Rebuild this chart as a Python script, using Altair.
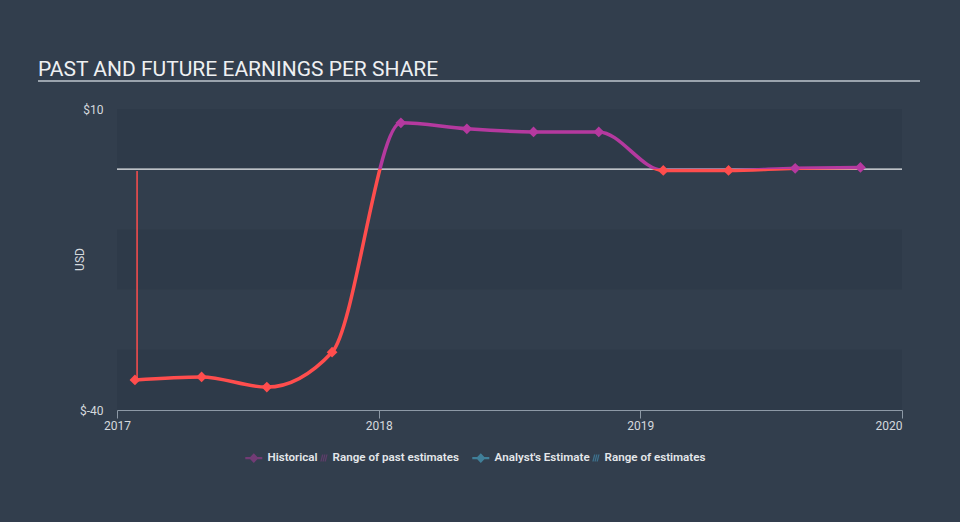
import altair as alt
import pandas as pd

# ---------------- data ----------------
dates = ["2017-01-26", "2017-04-29", "2017-07-29", "2017-10-28",
         "2018-02-01", "2018-05-04", "2018-08-05", "2018-11-04",
         "2019-02-02", "2019-05-04", "2019-08-05", "2019-11-04"]
eps = [-35.0, -34.5, -36.2, -30.4, 7.7, 6.7, 6.2, 6.2, -0.2, -0.2, 0.15, 0.3]

range_date = ["2017-01-29"]
range_low = [-35.0]
range_high = [-0.3]

band_top = [10, -10, -30]
band_bottom = [0, -20, -40]

zero_line = [0]

y_ticks = [10, -40]
year_ticks = [2017, 2018, 2019, 2020]

legend_past = ["Historical", "Range of past estimates"]
legend_future = ["Analyst's Estimate", "Range of estimates"]

title_text = "PAST AND FUTURE EARNINGS PER SHARE"

# ---------------- style ----------------
RED = "#ff4d4d"
PURPLE = "#b5399f"
BLUE = "#4fc3e8"
W, H = 785, 301

df = pd.DataFrame({"date": dates, "eps": eps})
rng = pd.DataFrame({"date": range_date, "low": range_low, "high": range_high})
bands = pd.DataFrame({"top": band_top, "bottom": band_bottom})
zero = pd.DataFrame({"z": zero_line})

yscale = alt.Scale(domain=[-40, 10], nice=False, zero=False)
yaxis = alt.Axis(values=y_ticks, labelExpr="'$' + datum.value", ticks=False, domain=False,
                 grid=False, labelPadding=14, labelColor="#d5d9de", labelFontSize=12,
                 labelFont="Roboto", title="USD", titleX=-31, titleY=150,
                 titleColor="#d5d9de", titleFontSize=12, titleFontWeight="normal",
                 titleFont="Roboto")

xscale = alt.Scale(type="utc", domain=[alt.DateTime(year=2017, month=1, date=1, utc=True),
                                       alt.DateTime(year=2020, month=1, date=1, utc=True)])
xaxis = alt.Axis(values=[alt.DateTime(year=y, month=1, date=1, utc=True) for y in year_ticks],
                 format="%Y", title=None, grid=False, tickSize=8, tickColor="#8d99a6",
                 domainColor="#8d99a6", labelColor="#d5d9de", labelFontSize=12,
                 labelFont="Roboto", labelPadding=2, labelFlush=False,
                 labelAlign={"condition": {"test": "datum.value >= 1577836800000", "value": "right"},
                             "value": "center"})


def Y(field):
    return alt.Y(field, type="quantitative", scale=yscale, axis=yaxis)


def X(field):
    return alt.X(field, type="temporal", scale=xscale, axis=xaxis)


band_layer = alt.Chart(bands).mark_rect(color="#2e3a49").encode(
    y=Y("top"), y2="bottom", x=alt.value(0), x2=alt.value(W))

zero_layer = alt.Chart(zero).mark_rule(color="#eceef0", strokeWidth=1.2).encode(
    y=Y("z"), x=alt.value(0), x2=alt.value(W))

range_layer = alt.Chart(rng).mark_rule(color=RED, strokeWidth=1.5).encode(
    x=X("date"), y=Y("low"), y2="high")

off = max(eps) / (max(eps) - min(eps))
grad = alt.Gradient(gradient="linear",
                    stops=[alt.GradientStop(offset=0, color=PURPLE),
                           alt.GradientStop(offset=off, color=PURPLE),
                           alt.GradientStop(offset=off, color=RED),
                           alt.GradientStop(offset=1, color=RED)],
                    x1=0, x2=0, y1=0, y2=1)

line_layer = alt.Chart(df).mark_line(interpolate="monotone", strokeWidth=3.5, color=grad).encode(
    x=X("date"), y=Y("eps"))

point_layer = alt.Chart(df).mark_point(shape="diamond", filled=True, size=115, opacity=1).encode(
    x=X("date"), y=Y("eps"),
    color=alt.condition("datum.eps < 0", alt.value(RED), alt.value(PURPLE)))

# legend glyphs: a short line with a diamond (overflowing to the left of its box) and a hatch
line_diamond = ("M-3.86,-0.34L-2.45,-0.34L-1.43,-1.4L-0.41,-0.34L1,-0.34L1,0.34"
                "L-0.41,0.34L-1.43,1.4L-2.45,0.34L-3.86,0.34Z")
hatch = ("M-1,1L-0.5,-1L-0.12,-1L-0.62,1Z M-0.4,1L0.1,-1L0.48,-1L-0.02,1Z "
         "M0.2,1L0.7,-1L1.08,-1L0.58,1Z")


def legend_layer(items, colors, x):
    return alt.Chart(pd.DataFrame({"cat": items})).mark_point(filled=True, size=0).encode(
        color=alt.Color("cat:N",
                        scale=alt.Scale(domain=items, range=colors),
                        legend=alt.Legend(orient="none", legendX=x, legendY=343,
                                          direction="horizontal", title=None, symbolOpacity=1,
                                          symbolSize=49, symbolStrokeWidth=0,
                                          labelColor="#e4e7ea", labelFontSize=11.6,
                                          labelFont="Roboto", labelFontWeight=600,
                                          labelOffset=3, columnPadding=-3)),
        shape=alt.Shape("cat:N", scale=alt.Scale(domain=items, range=[line_diamond, hatch])))


legend_a = legend_layer(legend_past, [PURPLE, "#8a3d86"], 136)
legend_b = legend_layer(legend_future, [BLUE, "#4aa6cf"], 363)

title_layer = alt.Chart(pd.DataFrame({"t": [title_text]})).mark_text(
    align="left", baseline="alphabetic", fontSize=21, font="Roboto", color="#eef0f2").encode(
    x=alt.value(-79), y=alt.value(-33), text="t:N")

underline_layer = alt.Chart(pd.DataFrame({"t": [title_text]})).mark_rule(
    color="#9aa3ad", strokeWidth=2).encode(
    x=alt.value(-79), x2=alt.value(803), y=alt.value(-28))

chart = alt.layer(band_layer, zero_layer, range_layer, line_layer, point_layer,
                  legend_a, legend_b, title_layer, underline_layer).resolve_scale(
    color="independent", shape="independent").properties(
    width=W, height=H,
    autosize=alt.AutoSizeParams(type="none"),
    padding={"left": 117, "top": 109, "right": 58, "bottom": 112},
    background="#323e4d",
).configure_view(fill="#344150", stroke=None)

chart.save("out.html", embed_options={"renderer": "svg", "actions": False})
